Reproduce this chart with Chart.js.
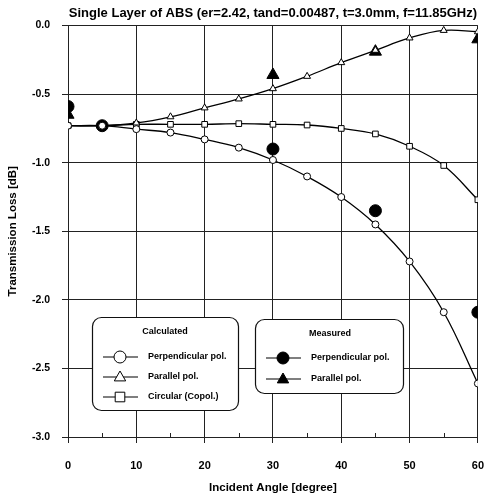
<!DOCTYPE html>
<html>
<head>
<meta charset="utf-8">
<script src="https://cdn.jsdelivr.net/npm/chart.js@4.4.1/dist/chart.umd.min.js"></script>
<style>
  html, body { margin: 0; padding: 0; background: #fff; overflow: hidden; }
  #chart { display: block; }
</style>
</head>
<body>
<canvas id="chart" width="500" height="500" style="width:500px;height:500px"></canvas>
<script>
// incident angles for calculated curves
const angles = [0, 5, 10, 15, 20, 25, 30, 35, 40, 45, 50, 55, 60];
const perpCalc = [-0.73, -0.73, -0.755, -0.78, -0.83, -0.89, -0.98, -1.10, -1.25, -1.45, -1.72, -2.09, -2.61];
const paraCalc = [-0.73, -0.73, -0.71, -0.665, -0.60, -0.535, -0.46, -0.37, -0.27, -0.18, -0.09, -0.035, -0.045];
const circCalc = [-0.73, -0.73, -0.72, -0.72, -0.72, -0.715, -0.72, -0.725, -0.75, -0.79, -0.88, -1.02, -1.27];

// measured points
const perpMeasAngles = [0, 5, 30, 45, 60];
const perpMeas = [-0.59, -0.73, -0.90, -1.35, -2.09];
const paraMeasAngles = [0, 30, 45, 60];
const paraMeas = [-0.65, -0.36, -0.19, -0.10];

const yTicks = [0, -0.5, -1.0, -1.5, -2.0, -2.5, -3.0];
const xTicks = [0, 10, 20, 30, 40, 50, 60];

const FONT = "'Liberation Sans', Arial, sans-serif";
const pts = (xs, ys) => xs.map((x, i) => ({ x: x, y: ys[i] }));

// two rounded legend boxes + minor x ticks
const extras = {
  id: 'extras',
  beforeDatasetsDraw(chart) {
    const { ctx, chartArea: ca, scales } = chart;
    ctx.save();
    // minor ticks at 5,15,... pointing up from the axis
    ctx.strokeStyle = '#222';
    ctx.lineWidth = 1;
    for (let a = 5; a < 60; a += 10) {
      const px = Math.round(scales.x.getPixelForValue(a)) + 0.5;
      ctx.beginPath();
      ctx.moveTo(px, ca.bottom);
      ctx.lineTo(px, ca.bottom - 4);
      ctx.stroke();
    }
    const box = (l, t, w, h) => {
      ctx.beginPath();
      ctx.roundRect(l + 0.5, t + 0.5, w, h, 9);
      ctx.fillStyle = '#fff';
      ctx.fill();
      ctx.strokeStyle = '#111';
      ctx.lineWidth = 1.2;
      ctx.stroke();
    };
    const marker = (type, filled, cx, cy, r) => {
      ctx.beginPath();
      if (type === 'circle') {
        ctx.arc(cx, cy, r, 0, Math.PI * 2);
      } else if (type === 'triangle') {
        ctx.moveTo(cx, cy - r);
        ctx.lineTo(cx + r * 0.95, cy + r * 0.65);
        ctx.lineTo(cx - r * 0.95, cy + r * 0.65);
        ctx.closePath();
      } else {
        ctx.rect(cx - r * 0.8, cy - r * 0.8, r * 1.6, r * 1.6);
      }
      ctx.fillStyle = filled ? '#000' : '#fff';
      ctx.fill();
      ctx.lineWidth = 1;
      ctx.strokeStyle = '#000';
      ctx.stroke();
    };
    const entry = (l, y, type, filled, label) => {
      ctx.strokeStyle = '#000';
      ctx.lineWidth = 1.2;
      ctx.beginPath();
      ctx.moveTo(l + 11, y);
      ctx.lineTo(l + 46, y);
      ctx.stroke();
      marker(type, filled, l + 28, y, 6);
      ctx.fillStyle = '#000';
      ctx.textAlign = 'left';
      ctx.textBaseline = 'middle';
      ctx.font = 'bold 9px ' + FONT;
      ctx.fillText(label, l + 56, y);
    };

    // Calculated
    let l = ca.left + 24, t = ca.bottom - 120;
    box(l, t, 146, 93);
    ctx.fillStyle = '#000';
    ctx.font = 'bold 9px ' + FONT;
    ctx.textAlign = 'center';
    ctx.textBaseline = 'middle';
    ctx.fillText('Calculated', l + 73, t + 15);
    entry(l, t + 40, 'circle', false, 'Perpendicular pol.');
    entry(l, t + 60, 'triangle', false, 'Parallel pol.');
    entry(l, t + 80, 'rect', false, 'Circular (Copol.)');

    // Measured
    l = ca.left + 187; t = ca.bottom - 118;
    box(l, t, 148, 74);
    ctx.fillStyle = '#000';
    ctx.font = 'bold 9px ' + FONT;
    ctx.textAlign = 'center';
    ctx.textBaseline = 'middle';
    ctx.fillText('Measured', l + 75, t + 15);
    entry(l, t + 39, 'circle', true, 'Perpendicular pol.');
    entry(l, t + 60, 'triangle', true, 'Parallel pol.');
    ctx.restore();
  }
};

const lineStyle = {
  borderColor: '#000',
  borderWidth: 1.3,
  pointBackgroundColor: '#fff',
  pointBorderColor: '#000',
  pointBorderWidth: 1,
  pointRadius: 3.5,
  tension: 0.4,
  fill: false
};

new Chart(document.getElementById('chart'), {
  type: 'scatter',
  data: {
    datasets: [
      { ...lineStyle, label: 'Perpendicular pol.', data: pts(angles, perpCalc), showLine: true, pointStyle: 'circle' },
      { ...lineStyle, label: 'Parallel pol.', data: pts(angles, paraCalc), showLine: true, pointStyle: 'triangle', pointRadius: 4 },
      { ...lineStyle, label: 'Circular (Copol.)', data: pts(angles, circCalc), showLine: true, pointStyle: 'rect', pointRadius: 4 },
      { label: 'Perpendicular pol. (meas.)', data: pts(perpMeasAngles, perpMeas), showLine: false,
        pointStyle: 'circle', pointRadius: 6, backgroundColor: '#000', borderColor: '#000' },
      { label: 'Parallel pol. (meas.)', data: pts(paraMeasAngles, paraMeas), showLine: false,
        pointStyle: 'triangle', pointRadius: 7, backgroundColor: '#000', borderColor: '#000' }
    ]
  },
  options: {
    responsive: false,
    animation: false,
    layout: { padding: { left: 0, right: 21, top: 0, bottom: 0 } },
    plugins: {
      legend: { display: false },
      tooltip: { enabled: false },
      title: {
        display: true,
        fullSize: false,
        text: 'Single Layer of ABS (er=2.42, tand=0.00487, t=3.0mm, f=11.85GHz)',
        color: '#000',
        font: { family: FONT, size: 13, weight: 'bold' },
        padding: { top: 6, bottom: 4 }
      }
    },
    scales: {
      x: {
        type: 'linear',
        min: 0, max: 60,
        afterBuildTicks: s => { s.ticks = xTicks.map(v => ({ value: v })); },
        afterFit: s => { s.height = 63; },
        grid: { color: '#222', lineWidth: 1, tickLength: 6, tickColor: '#222' },
        border: { color: '#222', width: 1 },
        ticks: {
          color: '#000', padding: 16, maxRotation: 0,
          font: { family: FONT, size: 11, weight: 'bold' },
          callback: v => String(v)
        },
        title: {
          display: true, text: 'Incident Angle [degree]', color: '#000',
          font: { family: FONT, size: 11.5, weight: 'bold' },
          padding: { top: 0, bottom: 5 }
        }
      },
      y: {
        min: -3.0, max: 0,
        afterBuildTicks: s => { s.ticks = yTicks.map(v => ({ value: v })); },
        afterFit: s => { s.width = 68; },
        grid: { color: '#222', lineWidth: 1, tickLength: 6, tickColor: '#222' },
        border: { color: '#222', width: 1 },
        ticks: {
          color: '#000', padding: 12,
          font: { family: FONT, size: 10.5, weight: 'bold' },
          callback: v => v.toFixed(1)
        },
        title: {
          display: true, text: 'Transmission Loss [dB]', color: '#000',
          font: { family: FONT, size: 11.5, weight: 'bold' },
          padding: { top: 6, bottom: 0 }
        }
      }
    }
  },
  plugins: [extras]
});
</script>
</body>
</html>
